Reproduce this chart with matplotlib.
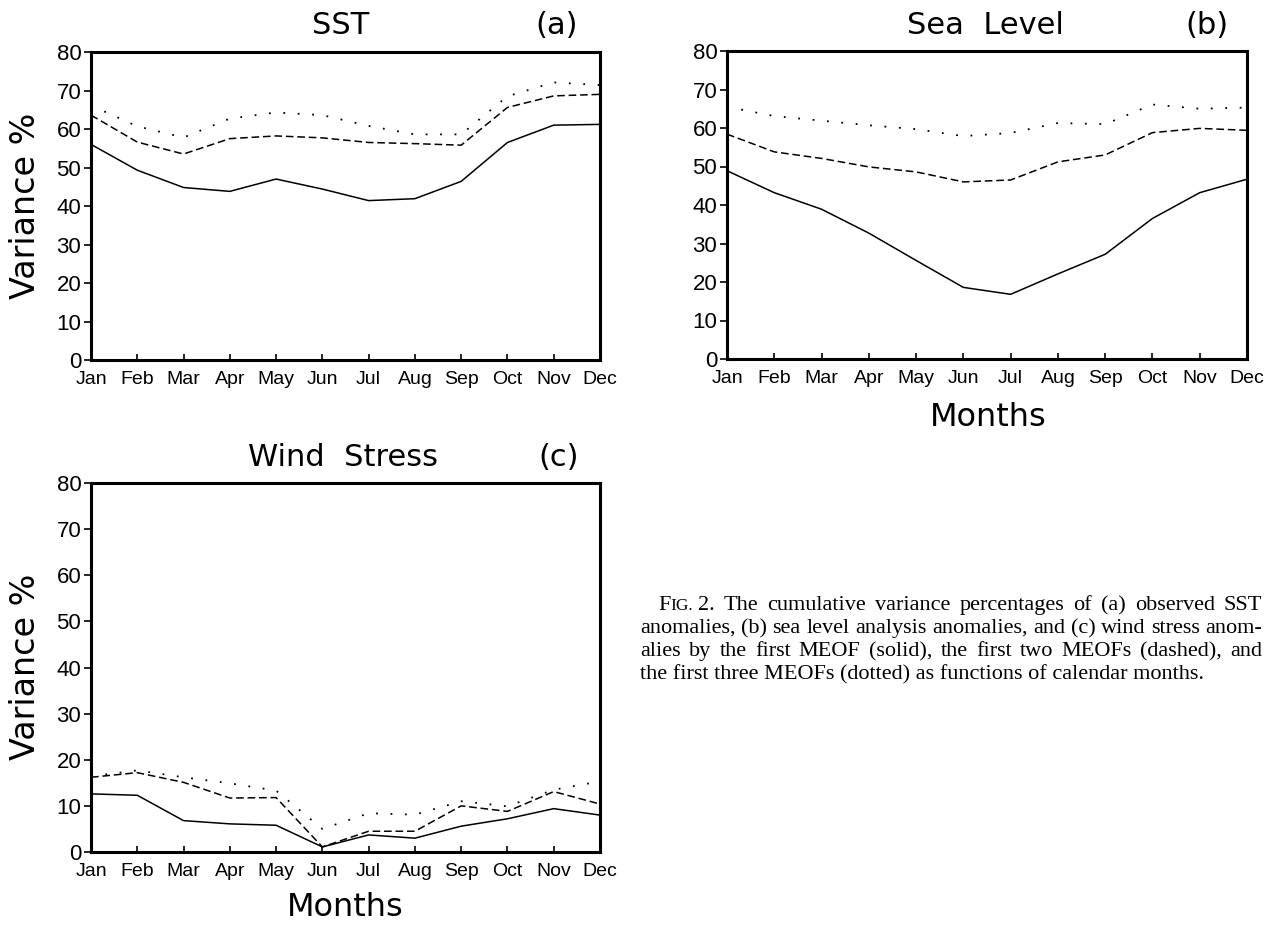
# %%
# Cumulative variance of the leading MEOFs by calendar month

import matplotlib.pyplot as plt

months = ["Jan", "Feb", "Mar", "Apr", "May", "Jun",
          "Jul", "Aug", "Sep", "Oct", "Nov", "Dec"]

# SST
sst_1 = [56.0, 49.3, 44.8, 43.8, 47.0, 44.4, 41.4, 41.9, 46.4, 56.5, 61.0, 61.2]
sst_2 = [63.6, 56.6, 53.5, 57.5, 58.2, 57.7, 56.5, 56.2, 55.8, 65.6, 68.6, 69.0]
sst_3 = [66.1, 60.7, 57.8, 62.7, 64.3, 63.6, 60.8, 58.6, 58.6, 68.5, 72.1, 71.4]

# Sea level
sl_1 = [48.9, 43.2, 38.9, 32.7, 25.6, 18.6, 16.8, 22.1, 27.2, 36.5, 43.2, 46.7]
sl_2 = [58.4, 53.8, 52.1, 49.9, 48.6, 46.0, 46.5, 51.2, 53.0, 58.8, 59.9, 59.4]
sl_3 = [65.5, 63.1, 61.9, 60.7, 59.7, 57.9, 58.7, 61.3, 61.0, 66.1, 65.0, 65.3]

# Wind stress
ws_1 = [12.6, 12.3, 6.8, 6.1, 5.8, 1.1, 3.7, 3.0, 5.6, 7.2, 9.4, 8.0]
ws_2 = [16.2, 17.2, 15.1, 11.7, 11.8, 1.1, 4.5, 4.5, 10.0, 8.8, 13.1, 10.4]
ws_3 = [16.4, 17.7, 16.2, 14.9, 13.3, 5.0, 8.4, 8.1, 11.0, 9.9, 13.5, 15.3]

yticks = [0, 10, 20, 30, 40, 50, 60, 70, 80]

W, H = 1265, 926
fig = plt.figure(figsize=(W / 100, H / 100), dpi=100)

sans = ["Liberation Sans", "DejaVu Sans"]


def box(left, top, right, bottom):
    return [left / W, 1 - bottom / H, (right - left) / W, (bottom - top) / H]


def panel(rect, s1, s2, s3, title, tag, title_x, tag_x, title_y):
    ax = fig.add_axes(rect)
    x = range(len(months))
    ax.plot(x, s1, color="black", lw=1.1, linestyle="-")
    ax.plot(x, s2, color="black", lw=1.1, linestyle=(0, (5, 2.5)))
    ax.plot(x, s3, color="black", lw=1.3, linestyle=(0, (1, 7)))
    ax.set_xlim(0, 11)
    ax.set_ylim(0, 80)
    ax.set_xticks(list(x))
    ax.set_xticklabels(months, family=sans, fontsize=14)
    ax.set_yticks(yticks)
    ax.set_yticklabels([str(v) for v in yticks], family=sans, fontsize=16)
    for sp in ax.spines.values():
        sp.set_linewidth(2.2)
    ax.tick_params(axis="x", direction="in", length=4, width=1.2, pad=8)
    ax.tick_params(axis="y", direction="out", length=5, width=1.2, pad=2)
    fig.text(title_x / W, 1 - title_y / H, title, ha="center", va="center", fontsize=22)
    fig.text(tag_x / W, 1 - title_y / H, tag, ha="center", va="center", fontsize=22)
    return ax


ax_a = panel(box(91, 52, 600, 360), sst_1, sst_2, sst_3, "SST", "(a)", 341, 557, 25)
ax_b = panel(box(727, 51, 1247, 359), sl_1, sl_2, sl_3, "Sea  Level", "(b)", 985, 1207, 25)
ax_c = panel(box(91, 483, 600, 852), ws_1, ws_2, ws_3, "Wind  Stress", "(c)", 343, 559, 458)

# Axis labels
fig.text(26 / W, 1 - 206 / H, "Variance %", rotation=90, ha="center", va="center", fontsize=24)
fig.text(26 / W, 1 - 667 / H, "Variance %", rotation=90, ha="center", va="center", fontsize=24)
fig.text(988 / W, 1 - 418 / H, "Months", ha="center", va="center", fontsize=23)
fig.text(345 / W, 1 - 907 / H, "Months", ha="center", va="center", fontsize=23)

# Caption, justified word by word
serif = ["Liberation Serif", "DejaVu Serif"]
cap_size = 16
cap_left, cap_right = 640, 1262
cap_y = [610, 633, 656, 679]
cap_lines = [
    "2. The cumulative variance percentages of (a) observed SST",
    "anomalies, (b) sea level analysis anomalies, and (c) wind stress anom-",
    "alies by the first MEOF (solid), the first two MEOFs (dashed), and",
    "the first three MEOFs (dotted) as functions of calendar months.",
]
renderer = fig.canvas.get_renderer()


def put(x, y, s, size=cap_size):
    t = fig.text(x / W, 1 - y / H, s, family=serif, fontsize=size, va="baseline")
    return t.get_window_extent(renderer).width


# small-caps "FIG." at the start of the first line
x0 = cap_left + 18
x0 += put(x0, cap_y[0], "F")
x0 += put(x0, cap_y[0], "IG.", size=cap_size * 0.78) + 5

for i, (yy, line) in enumerate(zip(cap_y, cap_lines)):
    start = x0 if i == 0 else cap_left
    words = line.split()
    if i == len(cap_lines) - 1:
        put(start, yy, line)
        continue
    texts = [fig.text(0, 0, w, family=serif, fontsize=cap_size, va="baseline") for w in words]
    widths = [t.get_window_extent(renderer).width for t in texts]
    gap = max((cap_right - start - sum(widths)) / (len(words) - 1), 3)
    xx = start
    for t, w in zip(texts, widths):
        t.set_position((xx / W, 1 - yy / H))
        xx += w + gap

plt.savefig("out.png", dpi=100)
